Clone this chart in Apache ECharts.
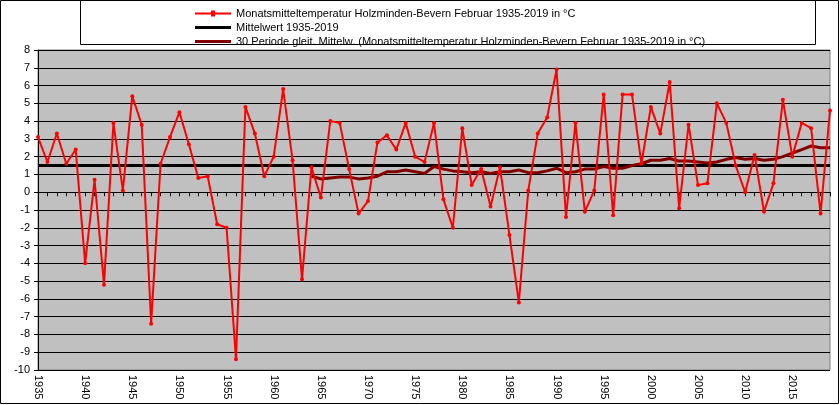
<!DOCTYPE html>
<html>
<head>
<meta charset="utf-8">
<script src="https://cdn.jsdelivr.net/npm/echarts@6/dist/echarts.min.js"></script>
<style>
html,body{margin:0;padding:0;background:#fff;}
#main{width:840px;height:405px;}
</style>
</head>
<body>
<div id="main"></div>
<script>
// Jahre 1935-2019
var jahre = [];
for (var j = 1935; j <= 2019; j++) { jahre.push(String(j)); }

// Monatsmitteltemperatur Februar
var temp = [3.1,1.7,3.3,1.6,2.4,-4.0,0.7,-5.2,3.9,0.1,
	5.4,3.8,-7.4,1.6,3.1,4.5,2.7,0.8,0.9,-1.8,
	-2.0,-9.4,4.8,3.3,0.9,2.0,5.8,1.8,-4.9,1.4,
	-0.3,4.0,3.9,1.3,-1.2,-0.5,2.8,3.2,2.4,3.9,
	2.0,1.7,3.9,-0.4,-2.0,3.6,0.4,1.3,-0.8,1.4,
	-2.4,-6.2,0.1,3.3,4.2,6.9,-1.4,3.9,-1.1,0.1,
	5.5,-1.3,5.5,5.5,1.6,4.8,3.3,6.2,-0.9,3.8,
	0.4,0.5,5.0,3.9,1.5,0.0,2.1,-1.1,0.5,5.2,
	2.0,3.9,3.6,-1.2,4.6];

var mittelwert = 1.5;

// 30 Perioden gleitender Mittelwert ab 1964
var gleitMittel = [0.9,0.75,0.8,0.85,0.85,0.75,0.8,0.9,1.15,1.15,1.25,1.15,1.05,1.45,
	1.3,1.2,1.15,1.1,1.15,1.05,1.15,1.15,1.25,1.1,1.1,1.2,1.35,
	1.1,1.15,1.3,1.3,1.45,1.35,1.35,1.5,1.6,1.8,
	1.8,1.9,1.75,1.75,1.7,1.65,1.7,1.85,1.95,
	1.85,1.9,1.8,1.85,2.0,2.2,2.4,2.6,2.5,2.5];

var mittelArr = [];
var gleitArr = [];
for (var i = 0; i < jahre.length; i++) {
	mittelArr.push(mittelwert);
	var k = i - (jahre.length - gleitMittel.length);
	gleitArr.push(k >= 0 ? gleitMittel[k] : '-');
}

var n1 = 'Monatsmitteltemperatur Holzminden-Bevern Februar 1935-2019 in °C';
var n2 = 'Mittelwert 1935-2019';
var n3 = '30 Periode gleit. Mittelw. (Monatsmitteltemperatur Holzminden-Bevern Februar 1935-2019 in °C)';

var myChart = echarts.init(document.getElementById('main'));
myChart.setOption({
	animation: false,
	textStyle: {fontFamily: 'Liberation Sans, Arial, sans-serif'},
	graphic: [
		{type: 'rect', shape: {x: 0.5, y: 0.5, width: 838, height: 403}, style: {fill: 'none', stroke: '#000', lineWidth: 1}, z: -10},
		{type: 'rect', shape: {x: 80.5, y: 0.5, width: 735, height: 44}, style: {fill: '#fff', stroke: '#000', lineWidth: 1}, z: 0}
	],
	legend: {
		orient: 'vertical',
		left: 190, top: 3,
		itemGap: 3,
		itemWidth: 36, itemHeight: 10,
		textStyle: {fontSize: 11, color: '#000'},
		z: 10,
		data: [
			{name: n1, icon: 'path://M0,4h36v2h-36z M16,2h4v6h-4z', itemStyle: {color: '#ff0000'}},
			{name: n2, icon: 'path://M0,3.5h36v3h-36z', itemStyle: {color: '#000'}},
			{name: n3, icon: 'path://M0,3.5h36v3h-36z', itemStyle: {color: '#800000'}}
		]
	},
	grid: {left: 38, right: 10, top: 50, bottom: 35, show: true, backgroundColor: '#c0c0c0', borderColor: '#808080'},
	xAxis: {
		type: 'category', data: jahre, boundaryGap: false,
		axisLine: {lineStyle: {color: '#000'}},
		axisTick: {interval: 0, length: 4, lineStyle: {color: '#000'}},
		axisLabel: {interval: 4, rotate: -90, fontSize: 11, color: '#000', margin: 5},
		splitLine: {show: false}
	},
	yAxis: {
		type: 'value', min: -10, max: 8, interval: 1,
		axisLine: {show: true, lineStyle: {color: '#000'}},
		axisTick: {show: true, length: 4, lineStyle: {color: '#000'}},
		axisLabel: {fontSize: 11, color: '#000', margin: 8},
		splitLine: {lineStyle: {color: '#000', width: 1}}
	},
	series: [
		{name: n2, type: 'line', data: mittelArr, symbol: 'none', lineStyle: {color: '#000', width: 3}, itemStyle: {color: '#000'}, z: 2},
		{name: n1, type: 'line', data: temp, symbol: 'circle', symbolSize: 4, lineStyle: {color: '#ff0000', width: 2}, itemStyle: {color: '#ff0000'}, z: 4},
		{name: n3, type: 'line', data: gleitArr, symbol: 'none', lineStyle: {color: '#800000', width: 3}, itemStyle: {color: '#800000'}, z: 3}
	]
});
</script>
</body>
</html>
